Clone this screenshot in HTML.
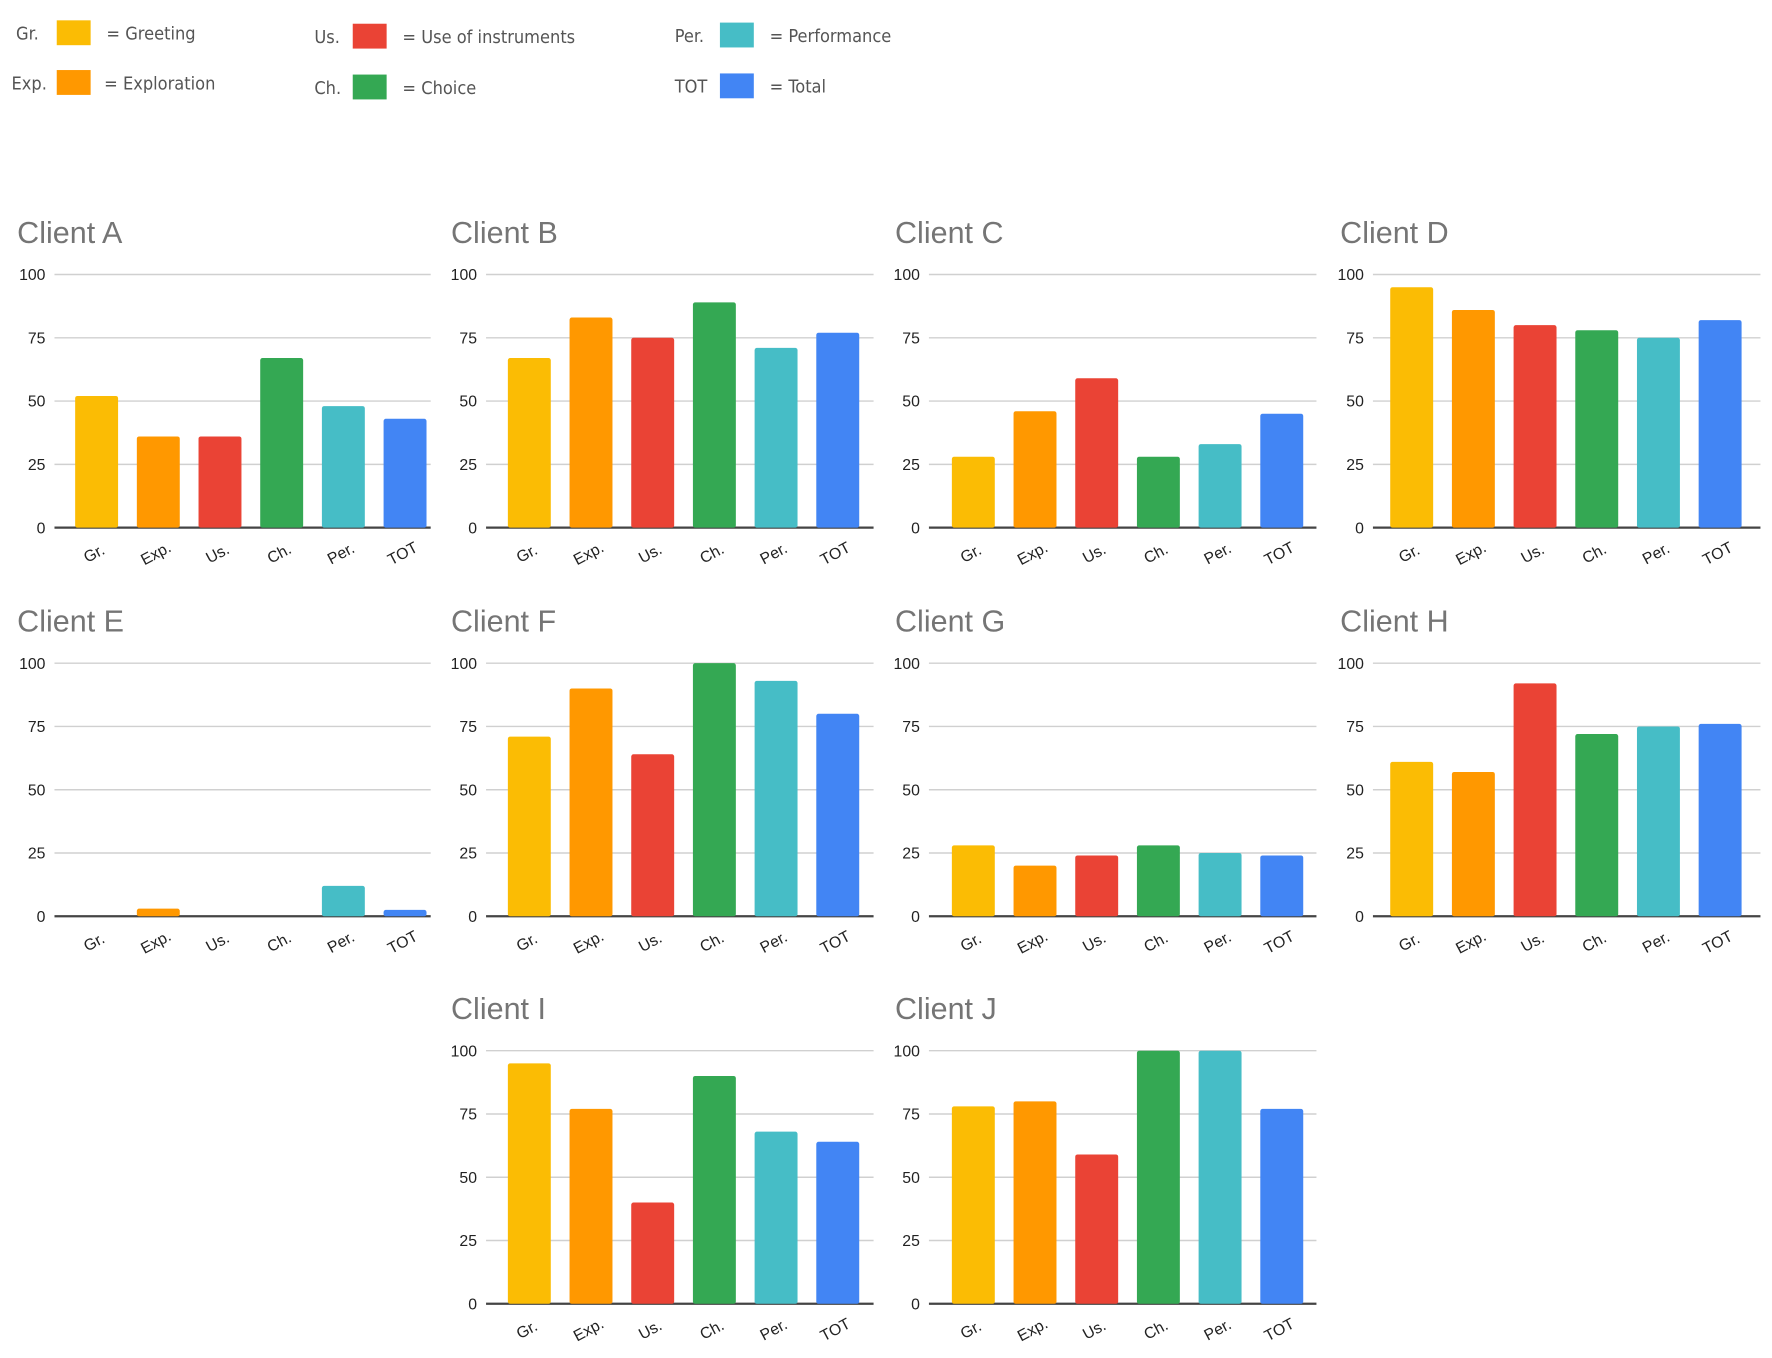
<!DOCTYPE html>
<html><head><meta charset="utf-8"><style>
html,body{margin:0;padding:0;background:#fff;}
svg{display:block;font-family:"Liberation Sans",Arial,sans-serif;}
</style></head><body>
<svg id="chart" width="1772" height="1358" viewBox="0 0 1568 1202" xmlns="http://www.w3.org/2000/svg">
<g id="legend" font-family="'DejaVu Sans Condensed','Liberation Sans',sans-serif" font-size="16" fill="#555"></g>
<g id="panels"></g>
</svg>
<script>
const categories = ["Gr.","Exp.","Us.","Ch.","Per.","TOT"];
const colors = ["#fbbc04","#ff9800","#ea4335","#34a853","#46bdc6","#4285f4"];
const clients = ["Client A","Client B","Client C","Client D","Client E","Client F","Client G","Client H","Client I","Client J"];
const valuesA = [52,36,36,67,48,43];
const valuesB = [67,83,75,89,71,77];
const valuesC = [28,46,59,28,33,45];
const valuesD = [95,86,80,78,75,82];
const valuesE = [0,3,0,0,12,2.5];
const valuesF = [71,90,64,100,93,80];
const valuesG = [28,20,24,28,25,24];
const valuesH = [61,57,92,72,75,76];
const valuesI = [95,77,40,90,68,64];
const valuesJ = [78,80,59,100,100,77];
const yTicks = [0,25,50,75,100];
const legendAbbr = ["Gr.","Exp.","Us.","Ch.","Per.","TOT"];
const legendNames = ["= Greeting","= Exploration","= Use of instruments","= Choice","= Performance","= Total"];

const NS="http://www.w3.org/2000/svg";
function mk(tag,attrs,parent){const e=document.createElementNS(NS,tag);for(const k in attrs)e.setAttribute(k,attrs[k]);parent.appendChild(e);return e;}

const lg=document.getElementById('legend');
const lgPos=[[14,50,94,18],[10,50,92,62],[278,312,356,21],[278,312,356,66],[597,637,681,20],[597,637,681,65]];
legendAbbr.forEach((a,i)=>{
  const p=lgPos[i];
  const t1=mk('text',{x:p[0],y:p[3]+17},lg);t1.textContent=a;
  
  
  const r=mk('rect',{x:p[1],y:p[3],width:30,height:22,fill:colors[i]},lg);
  
  
  const t2=mk('text',{x:p[2],y:p[3]+17},lg);t2.textContent=legendNames[i];
  
  
});

const allVals=[valuesA,valuesB,valuesC,valuesD,valuesE,valuesF,valuesG,valuesH,valuesI,valuesJ];
// [gridStart, gridEnd, titleX, barAreaStart]
const cols=[[48,381,15,58],[430,773,399,441],[822,1165,792,834],[1215,1558,1186,1222]];
const rows=[[243,467,206],[587,811,550],[930,1154,893]];
const layout=[[0,0],[0,1],[0,2],[0,3],[1,0],[1,1],[1,2],[1,3],[2,1],[2,2]];
const panels=document.getElementById('panels');
clients.forEach((name,ci)=>{
  const [ri,cj]=layout[ci];const [x0,x1,tx,bx]=cols[cj];const [yTop,yBot,ty]=rows[ri];
  const g=mk('g',{},panels);
  
  
  const yS=v=>yBot-(v/100)*(yBot-yTop);
  const bw=54.6;
  const xS=i=>bx+bw*(i+0.5);
  const t=mk('text',{x:tx,y:ty+9,'font-size':27,fill:'#757575'},g);t.textContent=name;
  
  
  yTicks.forEach(v=>{
    const l=mk('line',{x1:x0,x2:x1,y1:yS(v),y2:yS(v),stroke:v===0?'#444':'#d0d0d0','stroke-width':v===0?2:1.3},g);
    
    
    const tl=mk('text',{x:x0-8,y:yS(v)+5,'text-anchor':'end','font-size':14,fill:'#222'},g);tl.textContent=v;
    
    
  });
  allVals[ci].forEach((v,i)=>{
    if(v>0){
      const h=yBot-yS(v);
      const r=mk('rect',{x:xS(i)-19,y:yS(v),width:38,height:h,fill:colors[i],rx:2},g);
      
      
    }
    const cx=xS(i),cy=yBot+27;
    const xl=mk('text',{x:cx,y:cy,'text-anchor':'middle','font-size':14,fill:'#222',transform:`rotate(-28 ${cx} ${cy})`},g);
    xl.textContent=categories[i];
    
    
  });
});
</script>
</body></html>
